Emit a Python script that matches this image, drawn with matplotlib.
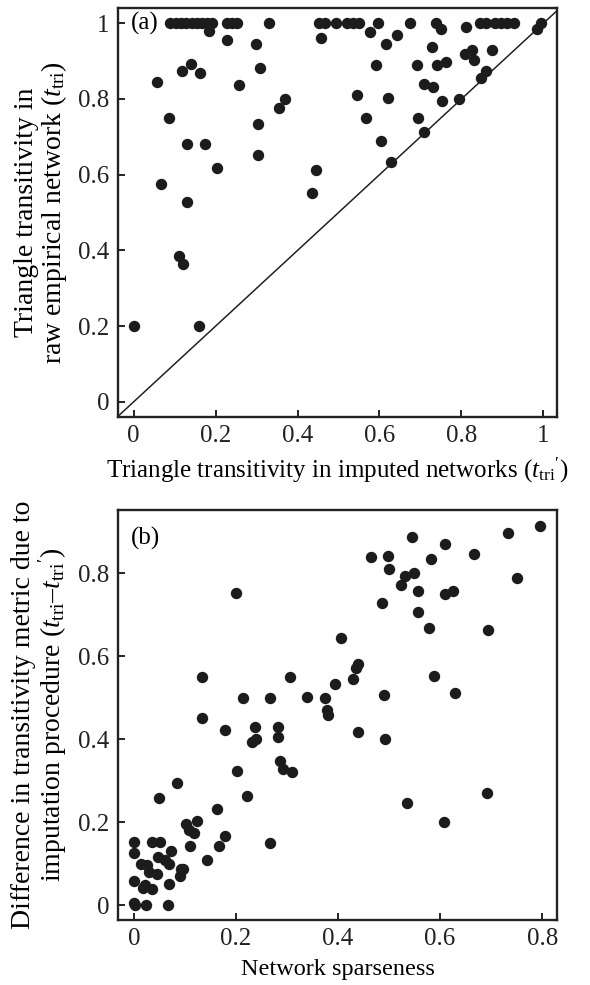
import matplotlib
matplotlib.use("Agg")
import matplotlib.pyplot as plt

plt.rcParams['font.family'] = ['Liberation Serif', 'DejaVu Serif']
plt.rcParams['mathtext.fontset'] = 'custom'
plt.rcParams['mathtext.rm'] = 'Liberation Serif'
plt.rcParams['mathtext.it'] = 'Liberation Serif:italic'

# Panel (a): imputed vs raw triangle transitivity
a_imputed = [0.09, 0.103, 0.116, 0.129, 0.142, 0.155, 0.167, 0.179, 0.191, 0.228, 0.24, 0.252,
             0.33, 0.452, 0.466, 0.495, 0.52, 0.535, 0.55, 0.597, 0.674, 0.738, 0.845, 0.86,
             0.882, 0.897, 0.912, 0.928, 0.995,
             0.184, 0.229, 0.298, 0.458, 0.058, 0.119, 0.14, 0.162, 0.309, 0.257, 0.355, 0.37,
             0.087, 0.304, 0.13, 0.175, 0.304, 0.203, 0.067, 0.13, 0.445, 0.435, 0.111, 0.121,
             0.0, 0.16, 0.577, 0.751, 0.811, 0.642, 0.615, 0.728, 0.808, 0.826, 0.83, 0.874,
             0.592, 0.691, 0.74, 0.762, 0.86, 0.848, 0.709, 0.73, 0.545, 0.62, 0.752, 0.794,
             0.567, 0.694, 0.603, 0.709, 0.628, 0.985]
a_raw = [1.0, 1.0, 1.0, 1.0, 1.0, 1.0, 1.0, 1.0, 1.0, 1.0, 1.0, 1.0,
         1.0, 1.0, 1.0, 1.0, 1.0, 1.0, 1.0, 1.0, 1.0, 1.0, 1.0, 1.0,
         1.0, 1.0, 1.0, 1.0, 1.0,
         0.98, 0.957, 0.945, 0.96, 0.844, 0.873, 0.892, 0.868, 0.881, 0.836, 0.776, 0.8,
         0.749, 0.733, 0.68, 0.68, 0.652, 0.617, 0.575, 0.528, 0.612, 0.551, 0.385, 0.364,
         0.2, 0.2, 0.978, 0.984, 0.99, 0.968, 0.945, 0.937, 0.92, 0.929, 0.902, 0.929,
         0.889, 0.889, 0.89, 0.897, 0.873, 0.855, 0.839, 0.831, 0.81, 0.802, 0.794, 0.8,
         0.749, 0.749, 0.689, 0.712, 0.633, 0.985]

# Panel (b): sparseness vs difference in transitivity
b_sparseness = [0.2, 0.134, 0.134, 0.214, 0.267, 0.306, 0.339, 0.375, 0.378, 0.381, 0.395, 0.405,
                0.178, 0.238, 0.283, 0.231, 0.239, 0.283, 0.286, 0.292, 0.309, 0.203, 0.084, 0.222,
                0.049, 0.162, 0.103, 0.124, 0.108, 0.118, 0.178, 0.111, 0.167, 0.143, 0.267, 0.0,
                0.0, 0.036, 0.052, 0.072, 0.015, 0.025, 0.048, 0.061, 0.069, 0.03, 0.046, 0.092,
                0.097, 0.09, 0.0, 0.069, 0.018, 0.036, 0.022, 0.0, 0.002, 0.023, 0.067,
                0.796, 0.733, 0.545, 0.61, 0.464, 0.497, 0.583, 0.666, 0.5, 0.531, 0.549, 0.524,
                0.556, 0.75, 0.61, 0.626, 0.486, 0.556, 0.578, 0.693, 0.435, 0.44, 0.429, 0.589,
                0.491, 0.63, 0.44, 0.493, 0.692, 0.536, 0.607]
b_difference = [0.751, 0.55, 0.451, 0.5, 0.5, 0.549, 0.502, 0.498, 0.47, 0.458, 0.532, 0.643,
                0.421, 0.43, 0.43, 0.394, 0.401, 0.404, 0.348, 0.327, 0.321, 0.324, 0.295, 0.263,
                0.257, 0.231, 0.195, 0.202, 0.181, 0.173, 0.167, 0.143, 0.143, 0.108, 0.15, 0.151,
                0.126, 0.153, 0.153, 0.13, 0.098, 0.096, 0.115, 0.108, 0.1, 0.08, 0.074, 0.088,
                0.087, 0.07, 0.058, 0.051, 0.04, 0.039, 0.048, 0.004, 0.0, 0.0, 0.0,
                0.914, 0.896, 0.886, 0.87, 0.839, 0.842, 0.834, 0.845, 0.81, 0.794, 0.8, 0.771,
                0.758, 0.789, 0.75, 0.757, 0.728, 0.707, 0.667, 0.663, 0.572, 0.58, 0.545, 0.553,
                0.506, 0.512, 0.417, 0.399, 0.271, 0.246, 0.201]

a_ticks = [0, 0.2, 0.4, 0.6, 0.8, 1.0]
a_ticklabels = ["0", "0.2", "0.4", "0.6", "0.8", "1"]
b_xticks = [0, 0.2, 0.4, 0.6, 0.8]
b_xticklabels = ["0", "0.2", "0.4", "0.6", "0.8"]
b_yticks = [0, 0.2, 0.4, 0.6, 0.8]
b_yticklabels = ["0", "0.2", "0.4", "0.6", "0.8"]

FS = 18
FSY = 20
DOT = '#1c1c1c'

fig = plt.figure(figsize=(5.9, 9.85), dpi=100)
ax1 = fig.add_axes([0.2, 0.5766, 0.744, 0.4152])
ax2 = fig.add_axes([0.2, 0.066, 0.744, 0.4162])

for ax in (ax1, ax2):
    for sp in ax.spines.values():
        sp.set_linewidth(1.7)
        sp.set_color('#222222')
    ax.tick_params(direction='in', length=5, width=1.4, labelsize=FS, colors='#222222',
                   labelcolor='#222222', pad=6)

# Panel (a)
ax1.axline((0, 0), (1, 1), color='#222222', lw=1.1, zorder=1)
ax1.plot(a_imputed, a_raw, 'o', ms=8.2, color=DOT, mec='none', zorder=3)
ax1.set_xlim(-0.038, 1.033)
ax1.set_ylim(-0.04, 1.04)
ax1.set_xticks(a_ticks)
ax1.set_xticklabels(a_ticklabels)
ax1.set_yticks(a_ticks)
ax1.set_yticklabels(a_ticklabels)
ax1.set_xlabel(r"Triangle transitivity in imputed networks ($t_{\mathrm{tri}}$$'$)", fontsize=FS, labelpad=6)
ax1.set_ylabel("Triangle transitivity in\n" + r"raw empirical network ($t_{\mathrm{tri}}$)",
               fontsize=FSY, labelpad=7, linespacing=1.0)
ax1.text(0.03, 0.963, "(a)", transform=ax1.transAxes, fontsize=FS, va='center', ha='left')

# Panel (b)
ax2.plot(b_sparseness, b_difference, 'o', ms=8.2, color=DOT, mec='none', zorder=3)
ax2.set_xlim(-0.031, 0.829)
ax2.set_ylim(-0.036, 0.952)
ax2.set_xticks(b_xticks)
ax2.set_xticklabels(b_xticklabels)
ax2.set_yticks(b_yticks)
ax2.set_yticklabels(b_yticklabels)
ax2.set_xlabel("Network sparseness", fontsize=17.5, labelpad=6)
ax2.set_ylabel("Difference in transitivity metric due to\n" +
               r"imputation procedure ($t_{\mathrm{tri}}$–$t_{\mathrm{tri}}$$'$)",
               fontsize=FSY, labelpad=7, linespacing=1.0)
ax2.text(0.03, 0.93, "(b)", transform=ax2.transAxes, fontsize=FS, va='center', ha='left')

fig.savefig("out.png", dpi=100)
